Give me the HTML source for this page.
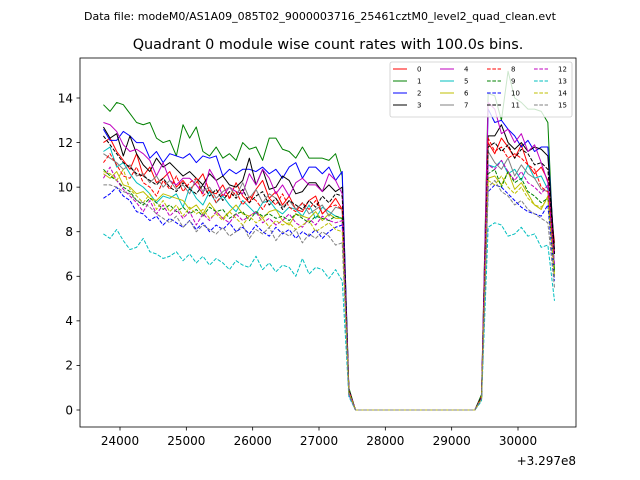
<!DOCTYPE html>
<html><head><meta charset="utf-8"><style>body{margin:0;background:#fff}svg{display:block;font-family:"DejaVu Sans","Liberation Sans",sans-serif}</style></head>
<body>
<svg id="c" width="640" height="480" viewBox="0 0 640 480">
<text x="320" y="20" text-anchor="middle" font-size="11">Data file: modeM0/AS1A09_085T02_9000003716_25461cztM0_level2_quad_clean.evt</text>
<text x="328" y="49" text-anchor="middle" font-size="14.4">Quadrant 0 module wise count rates with 100.0s bins.</text>
<g id="plot"></g>
<rect x="80" y="58" width="496" height="369" fill="none" stroke="#000" stroke-width="0.8"/>
<g id="axes"></g>
<g id="legend"></g>
<text x="576" y="465" text-anchor="end" font-size="12">+3.297e8</text>
</svg>
<script>
const xTicks=[24000,25000,26000,27000,28000,29000,30000];
const yTicks=[0,2,4,6,8,10,12,14];
const t0=23750, binSize=100, nBins=69;
const dropVals=[0.9,1.0,0.9,0.9,0.9,0.8,0.8,0.8,0.9,0.8,0.7,0.9,0.8,0.6,0.8,0.7];
const left0=[12.0,12.2,11.6,11.2,10.8,11.5,10.5,10.9,10.2,10.4,10.7,10.0,10.3,9.9,10.2,10.6,9.8,9.7,10.1,9.5,10.2,9.6,9.3,9.9,10.3,9.5,9.8,9.2,9.6,9.0,8.9,9.4,9.6,8.8,9.1,9.5,9.0];
const left1=[13.7,13.4,13.8,13.7,13.3,12.9,12.8,12.9,12.2,12.0,12.1,11.4,12.8,12.2,12.7,11.6,11.4,11.8,11.3,11.5,11.2,12.0,11.7,11.8,11.2,12.2,12.2,11.7,11.6,11.3,11.8,11.3,11.3,11.3,11.2,11.5,10.5];
const left2=[12.6,12.1,12.1,12.5,12.3,12.0,12.0,11.3,11.6,11.1,11.5,11.4,11.3,11.5,11.1,11.4,11.3,11.4,10.5,10.8,10.6,10.8,10.8,10.7,10.9,10.6,10.8,10.4,10.9,11.1,10.4,10.9,10.9,10.6,10.9,10.3,10.7];
const left3=[12.7,12.2,12.4,11.4,12.3,11.5,11.0,10.7,11.3,10.9,11.1,10.8,10.5,10.7,10.4,10.1,10.6,10.3,10.5,10.1,10.0,10.3,11.3,10.1,10.8,9.9,10.0,10.5,10.3,9.7,9.8,10.2,10.2,9.8,10.1,9.8,10.0];
const left4=[12.9,12.8,12.5,11.9,11.6,11.7,11.5,11.2,10.5,11.1,10.3,10.1,10.4,10.4,10.1,9.7,10.8,10.3,9.6,10.0,9.8,9.7,10.6,10.1,10.8,10.4,9.7,10.1,9.6,10.2,10.4,10.1,10.1,9.8,10.6,10.3,9.7];
const left5=[11.6,11.8,10.9,11.1,10.6,10.2,10.0,9.7,9.3,9.6,9.5,9.7,9.1,10.0,9.5,9.2,9.8,9.3,9.6,9.2,8.9,9.4,9.1,8.8,9.3,9.4,9.0,8.8,9.1,9.0,8.7,9.2,8.6,9.1,8.9,8.7,8.6];
const left6=[10.6,10.4,10.7,10.1,10.0,9.7,9.8,9.5,9.4,9.7,9.6,9.5,9.4,9.0,9.2,8.8,9.3,8.9,8.6,8.9,9.2,8.8,8.7,8.9,8.6,8.9,9.0,8.5,8.3,8.8,8.7,8.6,8.9,8.5,8.8,8.6,8.6];
const left7=[11.5,11.3,11.1,10.8,11.0,10.5,10.6,10.2,10.5,10.0,10.3,9.9,10.1,9.7,10.4,9.8,10.0,9.5,9.8,10.0,9.6,10.2,9.5,9.9,9.3,9.7,9.5,9.1,9.4,9.0,9.3,8.8,9.0,9.2,8.7,9.1,9.0];
const left8=[11.1,11.5,11.0,10.5,10.4,10.9,10.2,10.0,9.6,10.3,9.9,10.5,9.8,10.2,10.4,9.6,9.9,9.3,9.7,9.5,9.8,9.2,9.6,9.4,9.0,9.5,9.2,9.7,9.1,8.9,9.3,9.0,9.4,8.8,9.1,9.2,9.0];
const left9=[10.8,10.5,10.3,10.0,9.8,9.4,9.2,9.5,9.3,9.0,9.2,8.9,9.1,8.8,9.0,8.7,9.1,8.9,9.0,8.6,8.8,8.9,8.5,8.9,8.7,8.8,8.6,8.7,8.5,8.8,8.6,8.4,8.7,8.6,8.5,8.7,8.6];
const left10=[9.5,9.7,10.0,9.6,9.4,8.9,8.8,8.5,8.7,8.3,8.6,8.4,8.2,8.5,8.1,8.4,8.0,8.3,8.1,8.4,8.0,8.2,7.9,8.3,8.0,7.8,8.2,7.9,8.1,7.7,8.0,7.8,8.1,7.7,8.0,8.2,8.3];
const left11=[12.3,11.9,11.5,11.1,10.9,10.6,10.5,10.3,10.1,10.4,10.0,9.8,10.2,9.9,9.7,10.1,9.6,9.9,9.4,9.8,9.5,9.9,9.3,9.6,9.8,9.2,9.5,9.0,9.4,9.2,9.0,9.4,9.1,9.6,9.3,9.7,9.6];
const left12=[10.4,10.9,10.3,9.9,9.6,9.3,8.9,9.4,8.8,9.2,8.7,9.0,8.6,8.9,8.3,8.8,8.5,8.9,8.6,8.4,8.8,8.5,8.7,8.9,8.4,8.6,8.3,8.5,8.8,8.4,8.2,8.6,8.3,8.7,8.5,8.4,8.5];
const left13=[7.9,7.7,8.1,7.6,7.2,7.3,7.7,7.1,7.0,6.8,6.9,7.1,6.7,7.0,6.6,6.9,6.5,6.8,6.6,6.3,6.7,6.5,6.4,6.9,6.3,6.6,6.2,6.5,6.4,6.0,6.8,6.1,6.4,6.3,5.9,6.3,5.8];
const left14=[10.7,10.6,10.3,10.8,9.9,9.6,9.3,9.7,9.0,9.4,8.9,9.2,8.7,9.1,8.8,9.0,8.6,8.8,8.5,8.9,8.6,8.3,8.7,8.4,8.6,8.2,8.5,8.3,8.4,8.1,8.3,8.5,8.0,8.2,8.4,8.1,8.0];
const left15=[10.1,10.1,10.0,9.8,9.7,9.4,9.3,9.1,8.8,8.6,8.4,8.7,8.2,8.5,8.0,8.3,8.1,7.9,8.2,7.8,8.0,8.3,7.7,8.1,7.9,8.2,7.6,8.0,7.8,8.1,7.5,7.9,7.7,8.0,7.8,7.4,7.5];
const right0=[0.6,12.0,11.5,12.2,11.8,11.3,11.9,11.0,10.6,10.9,10.3,7.5];
const right1=[0.7,14.2,14.1,13.0,15.2,14.0,13.8,13.5,13.5,13.4,12.9,6.2];
const right2=[0.6,13.5,12.9,13.0,12.6,12.3,11.8,12.1,11.6,11.8,11.8,7.0];
const right3=[0.6,12.3,12.3,12.8,12.0,11.7,12.0,11.6,11.8,11.7,11.4,7.2];
const right4=[0.6,13.8,13.5,12.4,12.6,12.0,12.4,11.6,11.9,11.1,10.2,7.0];
const right5=[0.5,11.0,10.9,11.2,10.6,10.8,10.3,11.0,10.4,10.5,9.9,6.5];
const right6=[0.5,10.4,10.5,10.1,10.7,9.9,10.2,9.7,9.2,9.0,9.6,6.0];
const right7=[0.5,11.6,11.1,10.8,11.3,10.5,11.0,10.6,10.4,9.9,9.8,6.5];
const right8=[0.6,12.2,11.6,11.8,11.3,11.5,11.3,11.0,10.8,10.0,9.8,7.0];
const right9=[0.5,10.6,10.8,10.0,10.7,10.2,10.4,9.8,9.6,9.3,9.5,6.3];
const right10=[0.5,9.8,10.1,10.0,9.7,9.4,9.1,8.9,8.8,8.7,9.2,5.8];
const right11=[0.6,11.8,12.0,11.6,11.9,11.3,11.7,11.5,11.0,11.1,10.8,7.0];
const right12=[0.5,11.0,10.8,11.2,10.7,10.3,10.7,10.2,10.0,9.7,10.1,6.5];
const right13=[0.4,8.2,8.4,8.3,7.8,7.9,8.2,7.8,7.9,7.3,7.4,4.9];
const right14=[0.5,10.3,10.1,10.5,10.0,9.7,10.0,9.5,9.2,9.1,9.5,6.0];
const right15=[0.5,10.0,10.3,9.8,9.6,9.2,9.4,9.0,8.8,8.6,8.4,5.5];
const lefts=[left0,left1,left2,left3,left4,left5,left6,left7,left8,left9,left10,left11,left12,left13,left14,left15];
const rights=[right0,right1,right2,right3,right4,right5,right6,right7,right8,right9,right10,right11,right12,right13,right14,right15];
const colors=['#ff0000','#008000','#0000ff','#000000','#bf00bf','#00bfbf','#bfbf00','#808080'];

const NS='http://www.w3.org/2000/svg';
function xs(v){return 120+(v-24000)*(398/6000);}
function ys(v){return 410-v*(312/14);}
function mk(tag,attrs,parent){const e=document.createElementNS(NS,tag);for(const k in attrs)e.setAttribute(k,attrs[k]);parent.appendChild(e);return e;}
const plot=document.getElementById('plot'),axes=document.getElementById('axes'),leg=document.getElementById('legend');

for(let s=0;s<16;s++){
  const zeros=nBins-lefts[s].length-1-rights[s].length;
  const vals=lefts[s].concat([dropVals[s]],new Array(zeros).fill(0),rights[s]);
  let d='';
  vals.forEach((v,i)=>{d+=(i?'L':'M')+xs(t0+i*binSize).toFixed(2)+' '+ys(v).toFixed(2);});
  const p=mk('path',{d:d,fill:'none',stroke:colors[s%8],'stroke-width':1,'stroke-linejoin':'round'},plot);
  if(s>=8)p.setAttribute('stroke-dasharray','3.7 1.6');
  
  
}
xTicks.forEach(v=>{
  const l=mk('line',{x1:xs(v),x2:xs(v),y1:427,y2:430.5,stroke:'#000','stroke-width':0.8},axes);
  
  
  const t=mk('text',{x:xs(v),y:445,'text-anchor':'middle','font-size':12},axes);
  t.textContent=v;
  
  
});
yTicks.forEach(v=>{
  const l=mk('line',{x1:76.5,x2:80,y1:ys(v),y2:ys(v),stroke:'#000','stroke-width':0.8},axes);
  
  
  const t=mk('text',{x:73,y:ys(v)+4.3,'text-anchor':'end','font-size':12},axes);
  t.textContent=v;
  
  
});
const box=mk('rect',{x:390,y:62,width:182,height:55,rx:2,fill:'#fff','fill-opacity':0.8,stroke:'#ccc','stroke-width':0.8},leg);


for(let s=0;s<16;s++){
  const col=Math.floor(s/4),row=s%4;
  const x=393+col*47,y=69+row*12;
  const l=mk('line',{x1:x,x2:x+14,y1:y,y2:y,stroke:colors[s%8],'stroke-width':1},leg);
  if(s>=8)l.setAttribute('stroke-dasharray','3.7 1.6');
  
  
  const t=mk('text',{x:x+24,y:y+2.5,'font-size':7},leg);
  t.textContent=s;
  
  
}
</script>
</body></html>
